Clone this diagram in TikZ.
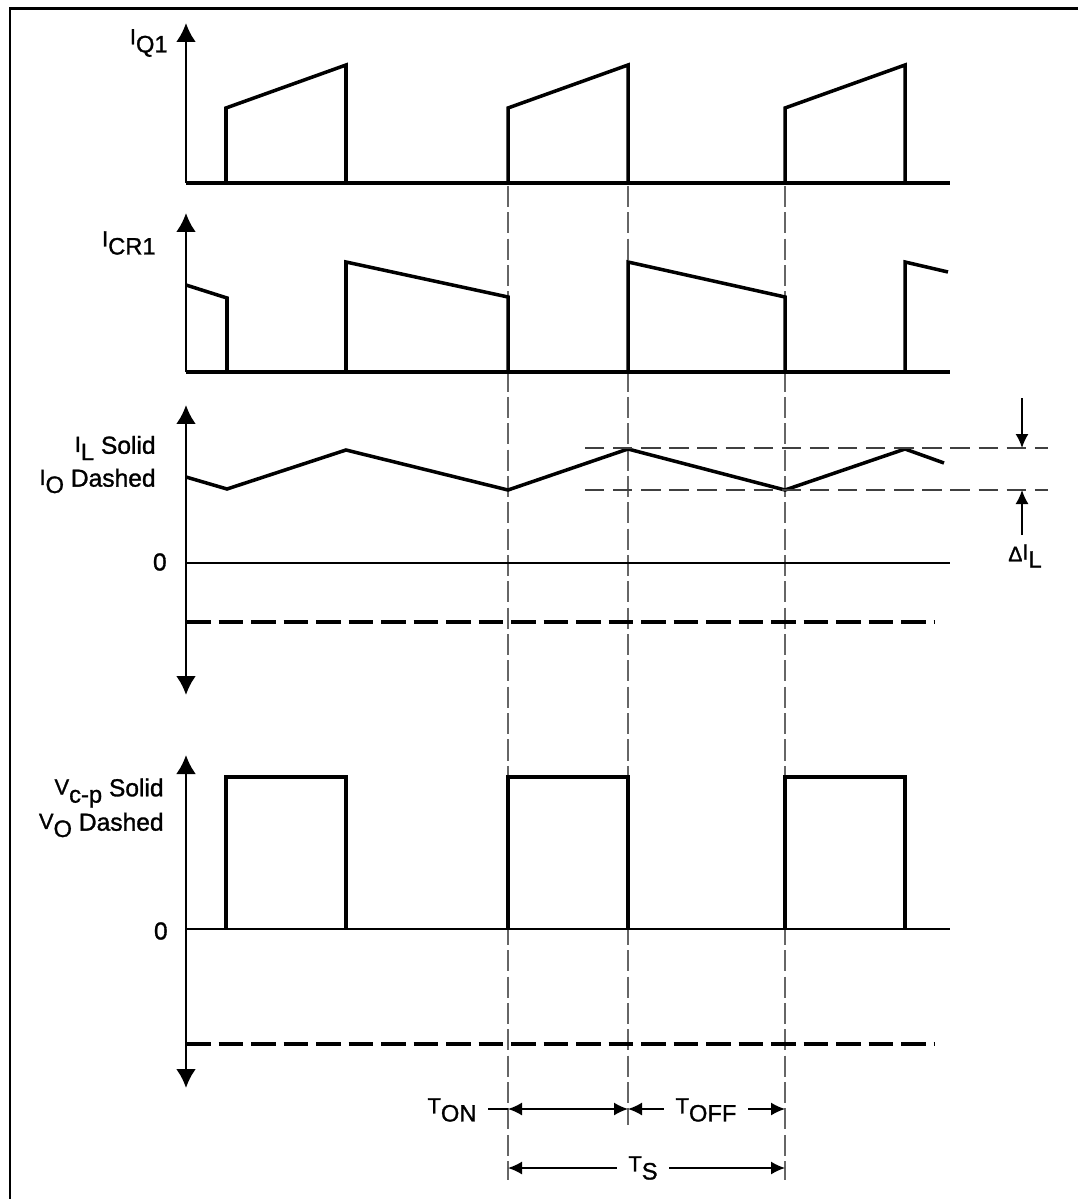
\documentclass[tikz,border=0pt]{standalone}
\usepackage{fontspec}
\setmainfont[FakeBold=1.2]{Liberation Sans}
\usetikzlibrary{arrows.meta}
\newcommand{\sig}[2]{\raisebox{1pt}{\fontsize{12.5}{12}\selectfont #1}\raisebox{-3.6pt}{\fontsize{13.5}{12}\selectfont #2}}

\begin{document}
\begin{tikzpicture}[x=0.02cm,y=-0.02cm]
      \tikzstyle{every node}=[font=\fontsize{14}{16}\selectfont,inner sep=0pt]
      \tikzstyle{wave}=[line width=2pt,line join=miter]
      \tikzstyle{axis}=[line width=1.6pt,-{Latex[length=0.38cm,width=0.4cm]}]
      \tikzstyle{axis2}=[line width=1.6pt,{Latex[length=0.38cm,width=0.4cm]}-{Latex[length=0.38cm,width=0.4cm]}]
      \tikzstyle{zero}=[line width=1.4pt]
      \tikzstyle{avg}=[line width=2pt,dash pattern=on 14pt off 4.5pt]
      \tikzstyle{guide}=[line width=0.7pt,black!60,dash pattern=on 12pt off 3pt]
      \tikzstyle{level}=[line width=0.8pt,black!75,dash pattern=on 11pt off 5pt]
      \tikzstyle{dim}=[line width=0.9pt,-{Latex[length=0.28cm,width=0.26cm]}]
      \tikzstyle{dimlbl}=[inner xsep=6.5pt]
      \useasboundingbox (0,0) rectangle (1078,1199);
      % 
      \draw[line width=1.7pt] (10,1199) -- (10,8.5) -- (1078,8.5);
      % 
      % timing guides (under the waves)
      \foreach \x/\e in {508/1180,628/1125,785/1180}
        \draw[guide] (\x,186) -- (\x,\e);
      % 
      % axes
      \coordinate (q1o) at (186,183);
      \coordinate (q1t) at (186,23);
      \coordinate (d1o) at (186,372);
      \coordinate (d1t) at (186,213);
      \coordinate (ilb) at (186,695);
      \coordinate (ilt) at (186,405);
      \coordinate (vcb) at (186,1088);
      \coordinate (vct) at (186,755);
      \draw[axis] (q1o) -- (q1t);
      \draw[axis] (d1o) -- (d1t);
      \draw[axis2] (ilb) -- (ilt);
      \draw[axis2] (vcb) -- (vct);
      % 
      % labels
      \node [anchor=east] (iq1)  at (168,43)  {\sig{I}{Q1}};
      \node [anchor=east] (icr1) at (156,243) {\sig{I}{CR1}};
      \node [anchor=east] (ils)  at (156,448) {\sig{I}{L} Solid};
      \node [anchor=east] (iod)  at (156,481) {\sig{I}{O} Dashed};
      \node [anchor=east] (z3)   at (167,562) {0};
      \node [anchor=east] (vcs)  at (164,793) {\sig{V}{c-p} Solid};
      \node [anchor=east] (vod)  at (164,825) {\sig{V}{O} Dashed};
      \node [anchor=east] (z4)   at (168,931) {0};
      % 
      % I_Q1
      \draw[wave] (q1o) -- (950,183);
      \foreach \s in {226,508,785}
        \draw[wave] (\s,183) -- (\s,108) -- (\s+120,65) -- (\s+120,183);
      % 
      % I_CR1
      \draw[wave] (d1o) -- (950,372);
      \draw[wave] (186,285) -- (227,298) -- (227,372);
      \draw[wave] (346,372) -- (346,262) -- (508,297) -- (508,372);
      \draw[wave] (628,372) -- (628,262) -- (785,297) -- (785,372);
      \draw[wave] (905,372) -- (905,262) -- (948,272);
      % 
      % I_L, I_O
      \draw[wave] (186,477) -- (227,489) -- (346,450) -- (508,490) -- (628,449)
                  -- (785,490) -- (905,449) -- (944,463);
      \draw[zero] (186,563) -- (950,563);
      \draw[avg]  (186,622) -- (935,622);
      \draw[level] (585,448) -- (1048,448);
      \draw[level] (585,490) -- (1048,490);
      \coordinate (dtop) at (1022,398);
      \coordinate (dhi)  at (1022,448);
      \coordinate (dlo)  at (1022,490);
      \coordinate (dbot) at (1022,535);
      \draw[dim] (dtop) -- (dhi);
      \draw[dim] (dbot) -- (dlo);
      \node (dil) at (1025,556) {{\fontsize{12}{12}\selectfont Δ}\sig{I}{L}};
      % 
      % V_c-p, V_O
      \draw[zero] (186,929) -- (950,929);
      \foreach \s in {226,508,785}
        \draw[wave] (\s,929) -- (\s,777) -- (\s+120,777) -- (\s+120,929);
      \draw[avg] (186,1044) -- (935,1044);
      % 
      % timing
      \coordinate (a0) at (508,1109);
      \coordinate (a1) at (628,1109);
      \coordinate (a2) at (785,1109);
      \coordinate (s0) at (508,1168);
      \coordinate (s2) at (785,1168);
      \node [dimlbl] (ton)  at (452,1110) {\sig{T}{ON}};
      \node [dimlbl] (toff) at (706,1110) {\sig{T}{OFF}};
      \node [dimlbl] (ts)   at (643,1168) {\sig{T}{S}};
      \draw[line width=0.9pt] (ton.east |- a0) -- (a0);
      \draw[line width=0.9pt,{Latex[length=0.28cm,width=0.26cm]}-{Latex[length=0.28cm,width=0.26cm]}] (a0) -- (a1);
      \draw[dim] (toff.west |- a1) -- (a1);
      \draw[dim] (toff.east |- a2) -- (a2);
      \draw[dim] (ts.west |- s0) -- (s0);
      \draw[dim] (ts.east |- s2) -- (s2);
\end{tikzpicture}
\end{document}
